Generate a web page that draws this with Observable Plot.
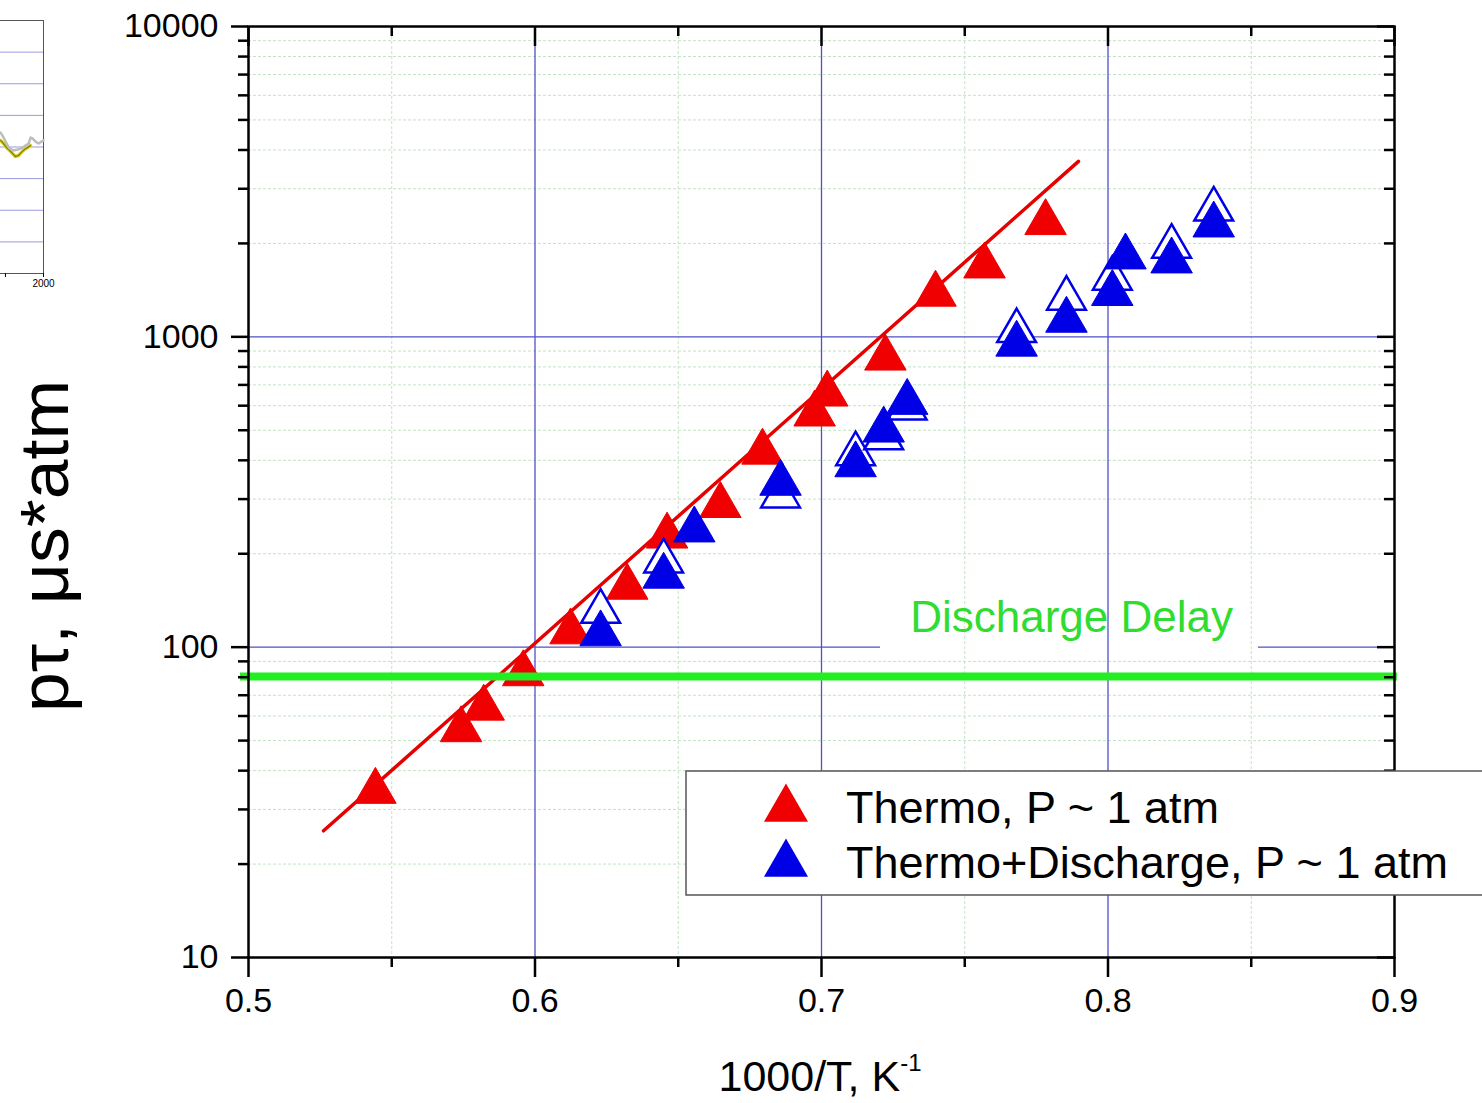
<!DOCTYPE html>
<html><head><meta charset="utf-8">
<script src="https://cdn.jsdelivr.net/npm/d3@7"></script>
<script src="https://cdn.jsdelivr.net/npm/@observablehq/plot@0.6"></script>
<style>
html,body{margin:0;padding:0;background:#fff;overflow:hidden;}
#wrap{position:relative;width:1482px;height:1103px;}
#main,#inset{position:absolute;left:0;top:0;}
</style></head>
<body><div id="wrap"><div id="main"></div><div id="inset"></div></div>
<script>
// ---- main chart data ----
const thermoX = [0.5443, 0.5742, 0.5821, 0.5959, 0.6124, 0.6322, 0.6461, 0.6647, 0.6794, 0.6976, 0.7020, 0.7223, 0.7398, 0.7569, 0.7782];
const thermoY = [34.3, 54.2, 63.6, 82.1, 112, 156, 228, 286, 425, 564, 654, 854, 1372, 1692, 2334];
const dischX = [0.6229, 0.6449, 0.6556, 0.6857, 0.7119, 0.7217, 0.7299, 0.7681, 0.7855, 0.8015, 0.8061, 0.8222, 0.8369];
const dischY = [110.4, 169.3, 238.6, 337.3, 387, 500.6, 614.8, 947, 1131, 1379, 1809, 1756, 2293];
const dischOpenX = [0.6229, 0.6449, 0.6857, 0.7119, 0.7217, 0.7299, 0.7681, 0.7855, 0.8015, 0.8222, 0.8369];
const dischOpenY = [130.2, 189.2, 306.3, 419.1, 471.8, 588, 1045, 1329, 1541, 1954, 2576];
const fitX = [0.5262, 0.7897];
const fitY = [25.6, 3677];
const delayValue = 80.4;
const delayExtent = [0.4972, 0.901];
const delayLabel = "Discharge Delay";
const delayLabelX = 0.7873;
const delayLabelY = 124.3;
const labelGap = [0.7206, 0.8525];
const xMajor = [0.5, 0.6, 0.7, 0.8, 0.9];
const xMinor = [0.55, 0.65, 0.75, 0.85];
const xGrid = [0.6, 0.7, 0.8];
const yMajor = [10, 100, 1000, 10000];
const yMinor = [20, 30, 40, 50, 60, 70, 80, 90, 200, 300, 400, 500, 600, 700, 800, 900, 2000, 3000, 4000, 5000, 6000, 7000, 8000, 9000];
const seriesNames = ["Thermo, P ~ 1 atm", "Thermo+Discharge, P ~ 1 atm"];
const seriesColors = ["#f00000", "#0000e6"];

// ---- cut-off inset fragment (top-left) ----
const insetGrayYears = [1887, 1895, 1903, 1911, 1921, 1932, 1940, 1950, 1961, 1966, 1971, 1979, 1987, 2000];
const insetGray = [4.46, 4.30, 4.11, 3.95, 3.89, 3.92, 3.95, 4.02, 4.11, 4.30, 4.27, 4.17, 4.11, 4.21];
const insetYellowYears = [1887, 1895, 1903, 1911, 1919, 1926, 1934, 1942, 1950, 1958, 1966];
const insetYellow = [4.21, 4.11, 3.98, 3.89, 3.79, 3.70, 3.73, 3.83, 3.92, 3.98, 4.05];
const insetGrid = [1, 2, 3, 4, 5, 6, 7];

const W = 1482, H = 1103, mL = 248, mR = 88, mT = 26, mB = 146;
const fw = W - mL - mR, fh = H - mT - mB;
const FONT = "'Liberation Sans', Arial, sans-serif";

const thermo = thermoX.map((x, i) => ({x, y: thermoY[i]}));
const disch = dischX.map((x, i) => ({x, y: dischY[i]}));
const dischOpen = dischOpenX.map((x, i) => ({x, y: dischOpenY[i]}));
const fit = fitX.map((x, i) => ({x, y: fitY[i]}));
const majorYLines = [
  {y: 1000, x1: xMajor[0], x2: xMajor[xMajor.length - 1]},
  {y: 100, x1: xMajor[0], x2: labelGap[0]},
  {y: 100, x1: labelGap[1], x2: xMajor[xMajor.length - 1]}
];
const gridMinor = "#c4e2c4";
const gridMajor = "#5050c8";

const plot = Plot.plot({
  width: W, height: H,
  marginLeft: mL, marginRight: mR, marginTop: mT, marginBottom: mB,
  style: {fontFamily: FONT, fontSize: "34px", color: "black", background: "white"},
  x: {domain: [0.5, 0.9]},
  y: {type: "log", domain: [10, 10000]},
  marks: [
    Plot.ruleY(yMinor, {stroke: gridMinor, strokeWidth: 1, strokeDasharray: "3,2"}),
    Plot.ruleX(xMinor, {stroke: gridMinor, strokeWidth: 1, strokeDasharray: "3,2"}),
    Plot.ruleX(xGrid, {stroke: gridMajor, strokeWidth: 1.3}),
    Plot.ruleY(majorYLines, {y: "y", x1: "x1", x2: "x2", stroke: gridMajor, strokeWidth: 1.3}),
    Plot.text([delayLabel], {x: () => delayLabelX, y: () => delayLabelY, text: d => d, fill: "#2fdc2f", fontSize: 44}),
    Plot.line(fit, {x: "x", y: "y", stroke: "#e60000", strokeWidth: 3.5}),
    Plot.dot(thermo, {x: "x", y: "y", symbol: "triangle", r: 15.4, fill: seriesColors[0], stroke: seriesColors[0], strokeWidth: 1}),
    Plot.dot(dischOpen, {x: "x", y: "y", symbol: "triangle", r: 14.4, fill: "white", stroke: seriesColors[1], strokeWidth: 2.5}),
    Plot.dot(disch, {x: "x", y: "y", symbol: "triangle", r: 15.4, fill: seriesColors[1], stroke: seriesColors[1], strokeWidth: 1}),
    Plot.ruleY([delayValue], {x1: delayExtent[0], x2: delayExtent[1], stroke: "#22ee22", strokeWidth: 8}),
    Plot.frame({stroke: "black", strokeWidth: 2.5}),
    Plot.axisX({ticks: xMajor, tickSize: 20, tickPadding: 10, tickFormat: d => String(d), label: null, strokeWidth: 2.5, fontSize: 34}),
    Plot.axisX({ticks: xMinor, tickSize: 10, tickFormat: () => "", label: null, strokeWidth: 2.5}),
    Plot.axisY({ticks: yMajor, tickSize: 17, tickPadding: 13, tickFormat: d => String(d), label: null, strokeWidth: 2.5, fontSize: 34}),
    Plot.axisY({ticks: yMinor, tickSize: 10, tickFormat: () => "", label: null, strokeWidth: 2.5}),
    Plot.tickX(xMajor, {x: d => d, insetBottom: fh - 20, stroke: "black", strokeWidth: 2.5}),
    Plot.tickX(xMinor, {x: d => d, insetBottom: fh - 10, stroke: "black", strokeWidth: 2.5}),
    Plot.tickY(yMajor, {y: d => d, insetLeft: fw - 17, stroke: "black", strokeWidth: 2.5}),
    Plot.tickY(yMinor, {y: d => d, insetLeft: fw - 10, stroke: "black", strokeWidth: 2.5})
  ]
});
document.getElementById("main").appendChild(plot);

const svg = d3.select(plot);
// axis titles
svg.append("text")
  .attr("transform", "translate(68,546) rotate(-90)")
  .attr("text-anchor", "middle")
  .attr("font-family", FONT).attr("font-size", 68).attr("fill", "black")
  .attr("textLength", 332).attr("lengthAdjust", "spacingAndGlyphs")
  .text("pτ, μs*atm");
const xl = svg.append("text")
  .attr("x", 820).attr("y", 1091)
  .attr("text-anchor", "middle")
  .attr("font-family", FONT).attr("font-size", 43).attr("fill", "black");
xl.append("tspan").text("1000/T, K");
xl.append("tspan").attr("font-size", 24).attr("dy", -20).text("-1");

// legend
const lg = svg.append("g").attr("text-anchor", "start");
lg.append("rect").attr("x", 686).attr("y", 771).attr("width", 820).attr("height", 124)
  .attr("fill", "white").attr("stroke", "#555").attr("stroke-width", 1.5);
const tri = d3.symbol(d3.symbolTriangle, 840)();
seriesNames.forEach((name, i) => {
  const cy = 809 + i * 55;
  lg.append("path").attr("d", tri).attr("transform", `translate(786,${cy})`).attr("fill", seriesColors[i]);
  lg.append("text").attr("x", 846).attr("y", 823 + i * 55).attr("text-anchor", "start")
    .attr("font-family", FONT).attr("font-size", 45).attr("fill", "black").text(name);
});

// inset fragment
const inset = Plot.plot({
  width: 60, height: 300, marginLeft: 0, marginRight: 17, marginTop: 20, marginBottom: 27,
  style: {fontFamily: FONT, fontSize: "10px", background: "transparent", overflow: "visible"},
  x: {domain: [1887, 2000]},
  y: {domain: [0, 8], axis: null},
  marks: [
    Plot.ruleY(insetGrid, {stroke: "#9a9ae0", strokeWidth: 1}),
    Plot.ruleY([0, 8], {stroke: "#555", strokeWidth: 1}),
    Plot.ruleX([2000], {stroke: "#555", strokeWidth: 1}),
    Plot.line(insetYellowYears.map((x, i) => ({x, y: insetYellow[i]})), {x: "x", y: "y", stroke: "#e2d820", strokeWidth: 3.5}),
    Plot.line(insetYellowYears.map((x, i) => ({x, y: insetYellow[i]})), {x: "x", y: "y", stroke: "#7e7a10", strokeWidth: 1.3}),
    Plot.line(insetGrayYears.map((x, i) => ({x, y: insetGray[i]})), {x: "x", y: "y", stroke: "#bdbdbd", strokeWidth: 2.5}),
    Plot.axisX({ticks: [1900, 2000], tickSize: 4, tickPadding: 2, tickFormat: d => d === 2000 ? "2000" : "", label: null})
  ]
});
document.getElementById("inset").appendChild(inset);
</script>
</body></html>
